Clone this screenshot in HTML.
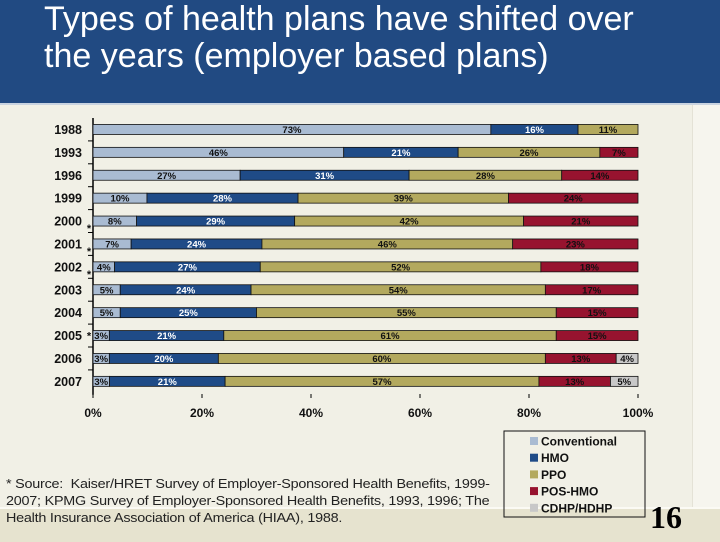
<!DOCTYPE html>
<html><head><meta charset="utf-8"><style>
body{margin:0;width:720px;height:540px;overflow:hidden;background:#f1f0e6;font-family:"Liberation Sans",sans-serif;position:relative}
#hdr{position:absolute;left:0;top:0;width:720px;height:103px;background:#214a82;border-bottom:2px solid #c9d3e0}
#title{position:absolute;left:44px;top:1px;color:#fff;font-size:34px;line-height:37px;letter-spacing:0px;white-space:nowrap}
#strip{position:absolute;left:692px;top:105px;width:28px;height:403px;background:#f6f5ee;border-left:1px solid #e4e2d6}
#band{position:absolute;left:0;top:507px;width:720px;height:33px;background:#e6e3cf;border-top:2px solid #fbfaf4}
#src{position:absolute;left:6px;top:476px;font-size:12.5px;line-height:17px;color:#222;white-space:nowrap;letter-spacing:-0.2px;transform:scaleX(1.15);transform-origin:0 0}
#pg{position:absolute;left:650px;top:499px;font-family:"Liberation Serif",serif;font-weight:bold;font-size:32px;color:#000}
</style></head><body>
<div id="hdr"><div id="title">Types of health plans have shifted over<br>the years (employer based plans)</div></div>
<div id="strip"></div>
<div id="band"></div>
<div id="src">* Source:&nbsp; Kaiser/HRET Survey of Employer-Sponsored Health Benefits, 1999-<br>2007; KPMG Survey of Employer-Sponsored Health Benefits, 1993, 1996; The<br>Health Insurance Association of America (HIAA), 1988.</div>
<div id="pg">16</div>
<svg id="chart" width="720" height="540" style="position:absolute;left:0;top:0"></svg>
<script>
const years=["1988","1993","1996","1999","2000","2001","2002","2003","2004","2005","2006","2007"];
const conventional=[73,46,27,10,8,7,4,5,5,3,3,3];
const hmo=[16,21,31,28,29,24,27,24,25,21,20,21];
const ppo=[11,26,28,39,42,46,52,54,55,61,60,57];
const posHmo=[0,7,14,24,21,23,18,17,15,15,13,13];
const cdhp=[0,0,0,0,0,0,0,0,0,0,4,5];
const starred=["2000","2001","2002","2005"];
const xTicks=[0,20,40,60,80,100];
const seriesNames=["Conventional","HMO","PPO","POS-HMO","CDHP/HDHP"];
const series=[conventional,hmo,ppo,posHmo,cdhp];
const colors=["#a9bbd2","#1f4b87","#b3a95e","#97132f","#c8c8c8"];
const textCol=["#111","#fff","#111","#111","#111"];
const NS="http://www.w3.org/2000/svg";
const svg=document.getElementById('chart');
const x0=93,x1=638,yTop=118,rowH=22.9,barH=10;
const X=v=>x0+(x1-x0)*v/100;
const Y=i=>yTop+rowH*(i+0.5);
function mk(t,a){const e=document.createElementNS(NS,t);for(const k in a)e.setAttribute(k,a[k]);svg.appendChild(e);return e;}
let ax=mk('line',{x1:x0,y1:yTop,x2:x0,y2:yTop+rowH*years.length+2,stroke:'#000','stroke-width':1.5});

for(let i=1;i<years.length;i++){let t=mk('line',{x1:x0-5,y1:yTop+rowH*i,x2:x0,y2:yTop+rowH*i,stroke:'#000'});
}
xTicks.forEach(v=>{let t=mk('line',{x1:X(v),y1:394,x2:X(v),y2:398,stroke:'#000'});

let l=mk('text',{x:X(v),y:417,'text-anchor':'middle','font-size':12,'font-weight':'bold',fill:'#111'});l.textContent=v+'%';
});
years.forEach((yr,i)=>{
 const yc=Y(i);
 let yl=mk('text',{x:82,y:yc+4.5,'text-anchor':'end','font-size':12.5,'font-weight':'bold',fill:'#111'});yl.textContent=yr;
 
 if(starred.includes(yr)){let s=mk('text',{x:89,y:yc+(yr==="2005"?4:11),'text-anchor':'middle','font-size':11,'font-weight':'bold',fill:'#111'});s.textContent='*';
 }
 const tot=series.reduce((a,s)=>a+s[i],0);let acc=0;
 series.forEach((s,k)=>{const v=s[i];if(!v)return;
  const a=X(acc/tot*100),b=X((acc+v)/tot*100);acc+=v;
  let r=mk('rect',{x:a,y:yc-barH/2,width:b-a,height:barH,fill:colors[k],stroke:'#111','stroke-width':0.8});
  
  let t=mk('text',{x:(a+b)/2,y:yc+3.5,'text-anchor':'middle','font-size':9.5,'font-weight':'bold',fill:textCol[k]});t.textContent=v+'%';
  
 });
});
let box=mk('rect',{x:504,y:431,width:141,height:86,fill:'none',stroke:'#111','stroke-width':1});

seriesNames.forEach((n,k)=>{const y=441+k*16.7;
 let sw=mk('rect',{x:530,y:y-4,width:8,height:8,fill:colors[k]});
 
 let t=mk('text',{x:541,y:y+4.5,'font-size':12,'font-weight':'bold',fill:'#111'});t.textContent=n;
 });
</script>
</body></html>
